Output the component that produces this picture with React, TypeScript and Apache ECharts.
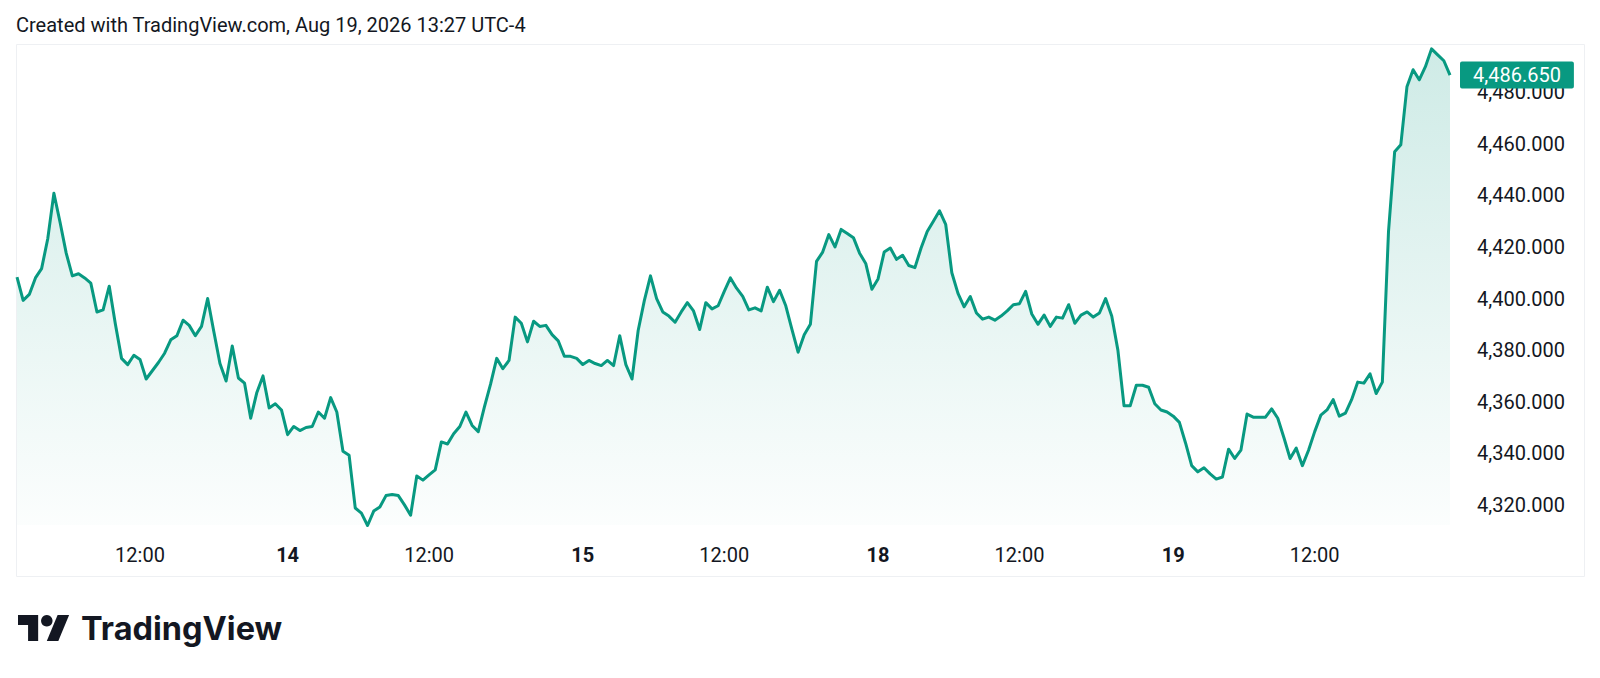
import React, { useEffect, useRef } from "react";
import * as echarts from "echarts";

// 30-minute closes
const prices: number[] = [
  4408.3, 4399.3, 4401.6, 4408.0, 4411.6, 4423.2, 4440.8, 4429.6, 4417.6, 4408.8,
  4409.6, 4408.0, 4406.0, 4394.8, 4395.6, 4404.8, 4390.0, 4376.8, 4374.4, 4378.0,
  4376.4, 4368.8, 4372.0, 4375.2, 4378.8, 4384.0, 4385.6, 4391.6, 4389.6, 4385.6,
  4389.2, 4400.0, 4387.2, 4374.8, 4368.0, 4381.6, 4369.2, 4367.2, 4353.6, 4363.6,
  4370.0, 4357.6, 4359.2, 4356.8, 4347.2, 4350.4, 4348.8, 4350.0, 4350.4, 4356.0,
  4353.6, 4361.6, 4356.0, 4340.8, 4339.2, 4318.8, 4316.8, 4312.0, 4317.6, 4319.2,
  4323.6, 4324.0, 4323.6, 4320.0, 4316.0, 4331.2, 4329.6, 4331.6, 4333.6, 4344.4,
  4343.6, 4347.6, 4350.4, 4356.0, 4350.8, 4348.4, 4358.0, 4366.8, 4376.8, 4372.8,
  4376.0, 4392.8, 4390.4, 4383.2, 4391.2, 4389.2, 4389.6, 4386.0, 4383.6, 4377.6,
  4377.6, 4376.8, 4374.4, 4376.0, 4374.8, 4374.0, 4376.0, 4374.0, 4385.6, 4374.4,
  4368.8, 4387.6, 4399.2, 4408.8, 4400.0, 4394.8, 4393.2, 4390.8, 4394.8, 4398.4,
  4395.2, 4388.0, 4398.4, 4396.0, 4397.2, 4402.8, 4408.0, 4404.0, 4400.8, 4395.6,
  4396.4, 4395.2, 4404.4, 4398.8, 4403.2, 4397.2, 4388.0, 4379.2, 4386.0, 4390.0,
  4414.4, 4418.0, 4424.8, 4420.0, 4426.8, 4425.2, 4423.6, 4417.6, 4413.6, 4403.6,
  4407.6, 4418.0, 4419.6, 4415.2, 4416.8, 4412.8, 4412.0, 4419.6, 4426.0, 4430.0,
  4434.0, 4428.8, 4410.0, 4402.0, 4396.8, 4400.8, 4394.4, 4392.0, 4392.8, 4391.6,
  4393.2, 4395.2, 4397.6, 4398.0, 4402.8, 4394.0, 4390.0, 4393.6, 4389.2, 4392.8,
  4392.4, 4397.6, 4390.4, 4393.6, 4394.8, 4392.8, 4394.4, 4400.0, 4393.2, 4380.0,
  4358.4, 4358.4, 4366.4, 4366.4, 4365.6, 4359.2, 4356.8, 4356.0, 4354.4, 4352.0,
  4344.0, 4335.2, 4332.8, 4334.4, 4332.0, 4330.0, 4330.8, 4341.6, 4338.0, 4341.2,
  4355.2, 4354.0, 4354.0, 4354.0, 4357.2, 4353.6, 4346.0, 4338.0, 4342.0, 4335.2,
  4341.2, 4348.4, 4354.8, 4356.8, 4360.8, 4354.4, 4355.6, 4360.8, 4367.6, 4367.2,
  4370.8, 4363.2, 4367.6, 4425.9, 4456.9, 4459.6, 4482.1, 4488.7, 4484.8, 4489.9,
  4496.8, 4494.5, 4492.2, 4486.65,
];

// time-scale labels: [bar index, text, is day boundary]
const timeLabels: [number, string, boolean][] = [
  [20, "12:00", false],
  [44, "14", true],
  [67, "12:00", false],
  [92, "15", true],
  [115, "12:00", false],
  [140, "18", true],
  [163, "12:00", false],
  [188, "19", true],
  [211, "12:00", false],
];

const priceTicks: number[] = [4320, 4340, 4360, 4380, 4400, 4420, 4440, 4460, 4480];
const lastPrice = 4486.65;
const titleText = "Created with TradingView.com, Aug 19, 2026 13:27 UTC-4";

const GREEN = "#089981";
const TEXT = "#131722";
const FONT = "Roboto, 'Noto Sans', sans-serif";

const fmtPrice = (v: number) =>
  v.toLocaleString("en-US", { minimumFractionDigits: 3, maximumFractionDigits: 3 });

export default function App() {
  const ref = useRef<HTMLDivElement>(null);

  useEffect(() => {
    document.body.style.margin = "0";
    if (!ref.current) return;
    const chart = echarts.init(ref.current, undefined, { renderer: "svg" });

    const labelMap = new Map<number, { text: string; bold: boolean }>();
    timeLabels.forEach(([i, t, b]) => labelMap.set(i, { text: t, bold: b }));
    const categories = prices.map((_, i) => String(i));

    const logoScale = 1.44;

    chart.setOption({
      animation: false,
      backgroundColor: "#ffffff",
      textStyle: { fontFamily: FONT },
      grid: { left: 17, right: 150, top: 45, bottom: 153, containLabel: false },
      xAxis: {
        type: "category",
        data: categories,
        boundaryGap: false,
        axisLine: { show: false },
        axisTick: { show: false },
        splitLine: { show: false },
        axisLabel: {
          interval: (idx: number) => labelMap.has(idx),
          formatter: (_v: string, idx: number) => {
            const l = labelMap.get(idx);
            if (!l) return "";
            return l.bold ? `{b|${l.text}}` : l.text;
          },
          color: TEXT,
          fontSize: 20,
          fontFamily: FONT,
          margin: 20,
          rich: {
            b: { fontWeight: "bold", fontSize: 20, color: TEXT, fontFamily: FONT },
          },
        },
      },
      yAxis: {
        type: "value",
        position: "right",
        min: 4312.2,
        max: 4498.3,
        axisLine: { show: false },
        axisTick: { show: false },
        splitLine: { show: false },
        axisLabel: {
          customValues: priceTicks,
          formatter: (v: number) => fmtPrice(v),
          color: TEXT,
          fontSize: 20,
          fontFamily: FONT,
          margin: 27,
        },
      },
      series: [
        {
          type: "line",
          data: prices,
          symbol: "none",
          showSymbol: false,
          clip: false,
          lineStyle: { color: GREEN, width: 3, join: "round" },
          areaStyle: {
            origin: "start",
            color: new echarts.graphic.LinearGradient(0, 0, 0, 1, [
              { offset: 0, color: "rgba(8,153,129,0.28)" },
              { offset: 1, color: "rgba(8,153,129,0.02)" },
            ]),
          },
          markLine: {
            silent: true,
            symbol: "none",
            lineStyle: { width: 0, color: "transparent" },
            label: {
              show: true,
              position: "end",
              distance: 10,
              formatter: () => fmtPrice(lastPrice),
              color: "#ffffff",
              backgroundColor: GREEN,
              fontSize: 20,
              fontFamily: FONT,
              padding: [4, 13, 3, 13],
              borderRadius: 2,
            },
            data: [{ yAxis: lastPrice }],
          },
        },
      ],
      graphic: [
        {
          type: "rect",
          z: -1,
          silent: true,
          shape: { x: 16.5, y: 44.5, width: 1568, height: 532 },
          style: { fill: "none", stroke: "#eef0f3", lineWidth: 1 },
        },
        {
          type: "text",
          x: 16,
          y: 25,
          silent: true,
          style: {
            text: titleText,
            fill: TEXT,
            fontSize: 20,
            fontFamily: FONT,
            verticalAlign: "middle",
          },
        },
        {
          type: "group",
          x: 18,
          y: 615 - 4 * logoScale,
          scaleX: logoScale,
          scaleY: logoScale,
          silent: true,
          children: [
            {
              type: "polygon",
              shape: { points: [[14, 22], [7, 22], [7, 11], [0, 11], [0, 4], [14, 4]] },
              style: { fill: TEXT },
            },
            {
              type: "polygon",
              shape: { points: [[28, 22], [20, 22], [27.5, 4], [35.5, 4]] },
              style: { fill: TEXT },
            },
            {
              type: "circle",
              shape: { cx: 20, cy: 8, r: 4 },
              style: { fill: TEXT },
            },
          ],
        },
        {
          type: "text",
          x: 81,
          y: 628,
          silent: true,
          style: {
            text: "TradingView",
            fill: TEXT,
            fontSize: 32.5,
            fontWeight: "bold",
            fontFamily: "Inter, Roboto, sans-serif",
            verticalAlign: "middle",
          },
        },
      ],
    });

    return () => chart.dispose();
  }, []);

  return <div ref={ref} style={{ width: 1600, height: 678 }} />;
}
